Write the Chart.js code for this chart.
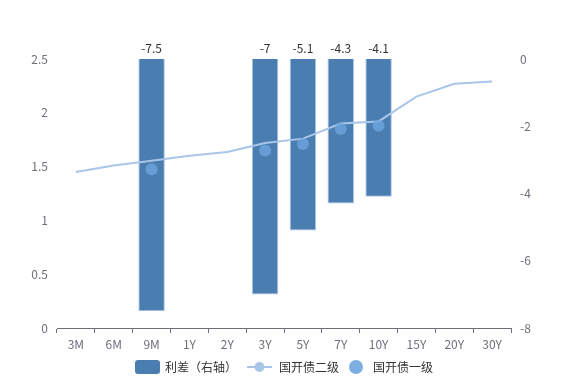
<!DOCTYPE html>
<html>
<head>
<meta charset="utf-8">
<script src="https://cdn.jsdelivr.net/npm/chart.js@4/dist/chart.umd.min.js"></script>
<style>
  html, body { margin: 0; padding: 0; background: #fff; }
  #wrap { width: 569px; height: 380px; }
</style>
</head>
<body>
<div id="wrap"><canvas id="c" width="569" height="380"></canvas></div>
<script>
// 数据
const categories = ['3M', '6M', '9M', '1Y', '2Y', '3Y', '5Y', '7Y', '10Y', '15Y', '20Y', '30Y'];
const spreadValues = [null, null, -7.5, null, null, -7, -5.1, -4.3, -4.1, null, null, null];
const secondaryValues = [1.45, 1.51, 1.555, 1.60, 1.635, 1.72, 1.76, 1.90, 1.92, 2.15, 2.27, 2.29];
const primaryValues = [null, null, 1.475, null, null, 1.65, 1.71, 1.85, 1.88, null, null, null];
const seriesNames = ['利差（右轴）', '国开债二级', '国开债一级'];

const FONT = '"Noto Sans CJK SC", "Microsoft YaHei", sans-serif';
const BAR_COLOR = '#4a7eb0';
const LINE_COLOR = '#a9c5e8';
const DOT_COLOR = 'rgba(110, 165, 222, 0.8)';
const AXIS_COLOR = '#6e7079';

// 柱顶标签
const barLabels = {
    id: 'barLabels',
    afterDatasetsDraw(chart) {
        const meta = chart.getDatasetMeta(0);
        const ctx = chart.ctx;
        ctx.save();
        ctx.font = '12px ' + FONT;
        ctx.fillStyle = '#333';
        ctx.textAlign = 'center';
        ctx.textBaseline = 'bottom';
        meta.data.forEach((el, i) => {
            const v = spreadValues[i];
            if (v == null) return;
            ctx.fillText(String(v), el.x, el.base - 5);
        });
        ctx.restore();
    }
};

// 底部图例（手绘）
const bottomLegend = {
    id: 'bottomLegend',
    afterDraw(chart) {
        const ctx = chart.ctx;
        ctx.save();
        ctx.font = '12px ' + FONT;
        ctx.textBaseline = 'middle';
        ctx.textAlign = 'left';
        const w = seriesNames.map(t => ctx.measureText(t).width);
        const total = 25 + 5 + w[0] + 10 + 25 + 7 + w[1] + 10 + 14 + 10 + w[2];
        const cy = 367;
        let x = Math.round(chart.width / 2 - total / 2);

        ctx.fillStyle = BAR_COLOR;
        ctx.beginPath();
        ctx.roundRect(x, cy - 7, 25, 14, 3);
        ctx.fill();
        x += 25 + 5;
        ctx.fillStyle = '#333';
        ctx.fillText(seriesNames[0], x, cy);
        x += w[0] + 10;

        ctx.strokeStyle = LINE_COLOR;
        ctx.lineWidth = 2;
        ctx.beginPath(); ctx.moveTo(x, cy); ctx.lineTo(x + 25, cy); ctx.stroke();
        ctx.fillStyle = LINE_COLOR;
        ctx.beginPath(); ctx.arc(x + 12.5, cy, 5, 0, Math.PI * 2); ctx.fill();
        x += 25 + 7;
        ctx.fillStyle = '#333';
        ctx.fillText(seriesNames[1], x, cy);
        x += w[1] + 10;

        ctx.fillStyle = 'rgba(110, 165, 222, 0.9)';
        ctx.beginPath(); ctx.arc(x + 7, cy, 7, 0, Math.PI * 2); ctx.fill();
        x += 14 + 10;
        ctx.fillStyle = '#333';
        ctx.fillText(seriesNames[2], x, cy);
        ctx.restore();
    }
};

new Chart(document.getElementById('c'), {
    data: {
        labels: categories,
        datasets: [
            {
                type: 'bar',
                label: seriesNames[0],
                data: spreadValues,
                yAxisID: 'y1',
                backgroundColor: BAR_COLOR,
                borderColor: '#a9c5e8',
                borderWidth: 1,
                barPercentage: 0.7,
                categoryPercentage: 1,
                order: 3
            },
            {
                type: 'line',
                label: seriesNames[1],
                data: secondaryValues,
                yAxisID: 'y',
                borderColor: LINE_COLOR,
                borderWidth: 2,
                pointRadius: 0,
                tension: 0,
                order: 2
            },
            {
                type: 'line',
                label: seriesNames[2],
                data: primaryValues,
                yAxisID: 'y',
                showLine: false,
                pointRadius: 6,
                pointBackgroundColor: DOT_COLOR,
                pointBorderWidth: 0,
                order: 1
            }
        ]
    },
    options: {
        responsive: false,
        animation: false,
        layout: { padding: { top: 59, bottom: 28, left: 0, right: 0 } },
        plugins: {
            tooltip: { enabled: false },
            legend: { display: false }
        },
        scales: {
            x: {
                grid: {
                    offset: true,
                    drawOnChartArea: false,
                    drawTicks: true,
                    tickLength: 5,
                    color: AXIS_COLOR
                },
                border: { display: true, color: AXIS_COLOR },
                ticks: { color: AXIS_COLOR, font: { size: 12, family: FONT }, padding: 4, maxRotation: 0, autoSkip: false },
                afterFit: s => { s.height = 24; }
            },
            y: {
                position: 'left',
                min: 0, max: 2.5,
                grid: { display: false, drawTicks: false },
                border: { display: false },
                ticks: { stepSize: 0.5, color: AXIS_COLOR, font: { size: 12, family: FONT }, padding: 9,
                    callback: v => String(v) },
                afterFit: s => { s.width = 57; }
            },
            y1: {
                position: 'right',
                min: -8, max: 0,
                grid: { display: false, drawTicks: false },
                border: { display: false },
                ticks: { stepSize: 2, color: AXIS_COLOR, font: { size: 12, family: FONT }, padding: 9,
                    callback: v => String(v) },
                afterFit: s => { s.width = 58; }
            }
        }
    },
    plugins: [barLabels, bottomLegend]
});
</script>
</body>
</html>
